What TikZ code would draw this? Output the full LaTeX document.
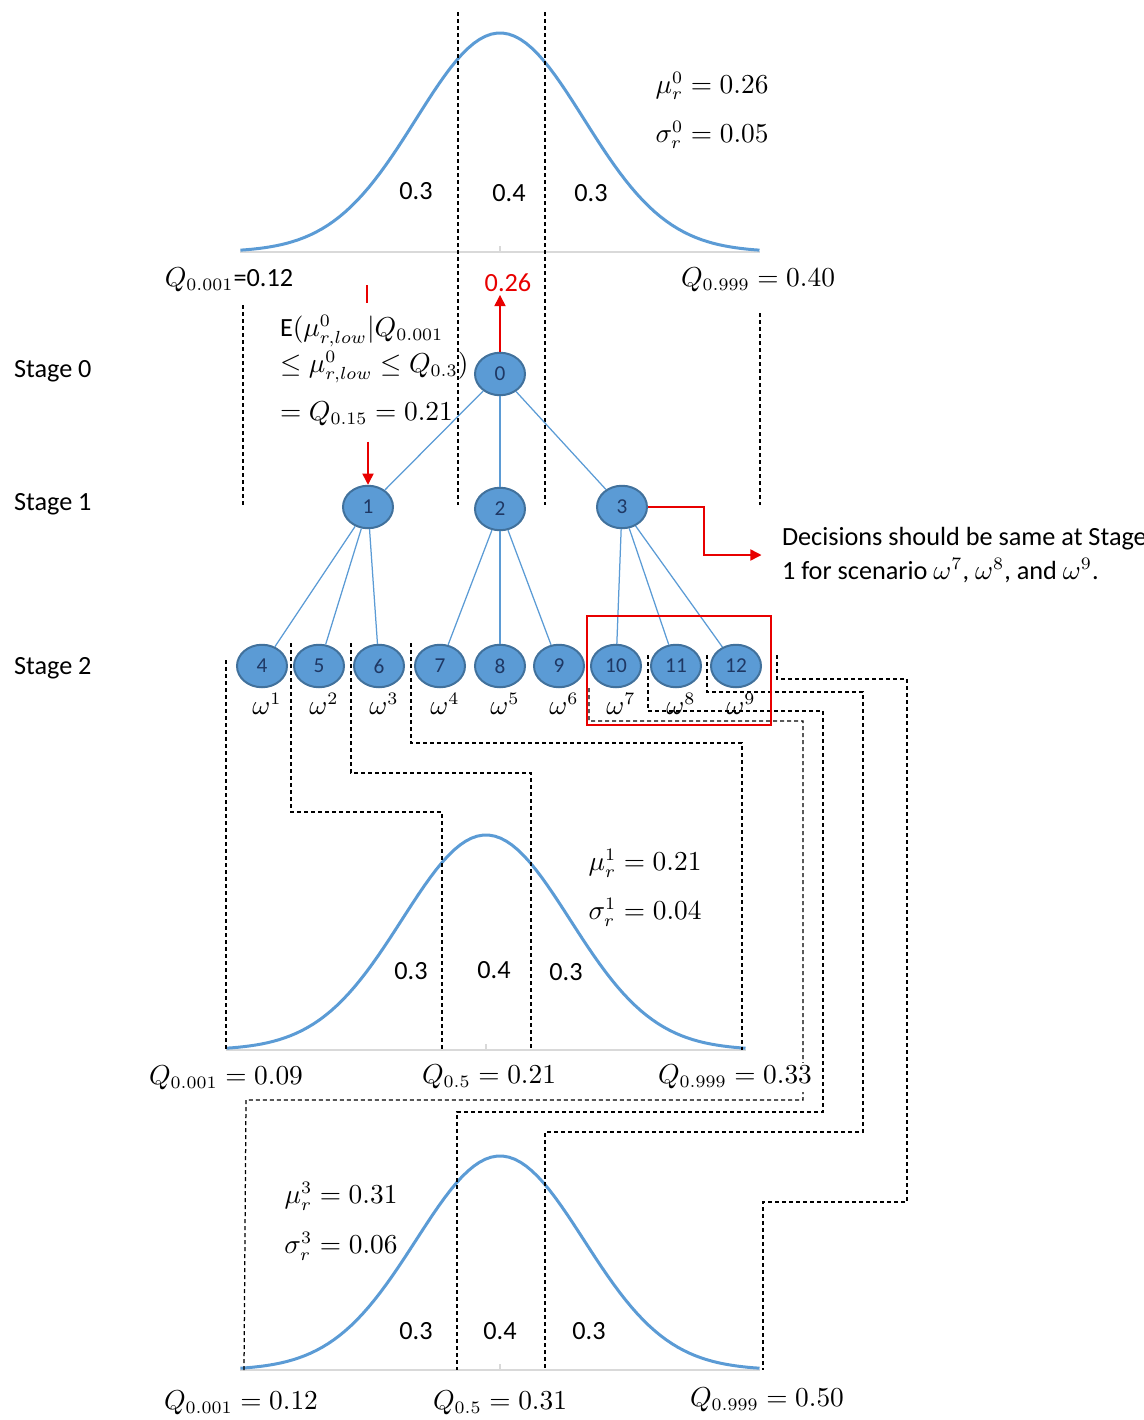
\documentclass[tikz,border=0pt]{standalone}
\usepackage{fontspec}
\setmainfont{Carlito}
\usetikzlibrary{positioning,arrows.meta,shapes.geometric,calc}
\definecolor{nodeblue}{RGB}{91,155,213}
\definecolor{nodeedge}{RGB}{65,113,156}
\definecolor{numblue}{RGB}{31,56,100}
\definecolor{mred}{RGB}{232,0,0}
\tikzset{
  stnode/.style={ellipse,draw=nodeedge,fill=nodeblue,line width=0.8pt,minimum width=20pt,
    minimum height=17pt,inner sep=0pt,text=numblue,font=\fontsize{8.5}{10}\selectfont},
  tedge/.style={nodeblue,line width=0.5pt},          % tree edge
  curve/.style={nodeblue,line width=1.2pt},          % density curve
  dline/.style={dash pattern=on 1.6pt off 1.2pt,line width=0.5pt},
  axisln/.style={black!15,line width=0.7pt},
  redln/.style={mred,line width=0.6pt},
  redarr/.style={redln,-{Triangle[length=4.5pt,width=4.5pt]}},
  lbl/.style={font=\fontsize{10.5}{12.6}\selectfont,inner sep=1pt},
}

\begin{document}
\begin{tikzpicture}[x=0.4pt,y=-0.4pt]
  \useasboundingbox (0,0) rectangle (1144,1420);

  % three densities: centre / baseline / peak height
  \foreach \cx/\by/\pk in {500/252/219, 486/1050/215, 500/1370/214}{
    \draw[axisln] (\cx-260,\by) -- (\cx+260,\by);
    \draw[axisln] (\cx,\by-6) -- (\cx,\by);
    \draw[curve] plot[domain=-3.09:3.09,samples=90] ({\cx+84*\x},{\by-\pk*exp(-0.5*(\x)^2)});
  }

  % quantile lines of the first density
  \draw[dline] (458,12) -- (458,505);
  \draw[dline] (545,12) -- (545,505);
  \draw[dline] (243,305) -- (243,505);
  \draw[dline] (760,313) -- (760,505);

  % scenario splits carried down to the stage 2 densities
  \draw[dline] (226,660) -- (226,1050);
  \draw[dline] (291,643) |- (442,812) -- (442,1050);
  \draw[dline] (351,643) |- (531,773) -- (531,1050);
  \draw[dline] (411,643) |- (742,743) -- (742,1050);
  \draw[dline] (589,688) |- (803,721) |- (246,1100) -- (244,1370);
  \draw[dline] (648,655) |- (823,711) |- (457,1112) -- (457,1370);
  \draw[dline] (707,655) |- (863,692) |- (545,1132) -- (545,1370);
  \draw[dline] (777,655) |- (907,679) |- (763,1202) -- (763,1370);

  % stage labels
  \node[lbl,anchor=west] (st0) at (11,371) {Stage 0};
  \node[lbl,anchor=west] (st1) at (11,504) {Stage 1};
  \node[lbl,anchor=west] (st2) at (11,668) {Stage 2};

  % scenario tree
  \node[stnode] (n0) at (500,374) {0};
  \node[stnode] (n1) at (368,507) {1};
  \node[stnode] (n2) at (500,509) {2};
  \node[stnode] (n3) at (622,507) {3};
  \foreach \i/\x/\w in {4/262/1, 5/319/2, 6/379/3, 7/440/4, 8/500/5, 9/559/6, 10/616/7, 11/676/8, 12/736/9}{
    \node[stnode] (n\i) at (\x,666) {\i};
    \node[lbl] (w\i) at (\x+5,704) {$\omega^{\w}$};
  }
  \foreach \p/\c in {0/1,0/2,0/3,1/4,1/5,1/6,2/7,2/8,2/9,3/10,3/11,3/12}
    \draw[tedge] (n\p) -- (n\c);

  % first density labels
  \node[lbl] (pa0) at (416,191) {0.3};
  \node[lbl] (pb0) at (509,193) {0.4};
  \node[lbl] (pc0) at (591,193) {0.3};
  \node[lbl] (mu0) at (712,86) {$\mu_r^0 = 0.26$};
  \node[lbl] (sg0) at (712,135) {$\sigma_r^0 = 0.05$};
  \node[lbl] (qa0) at (229,280) {$Q_{0.001}$=0.12};
  \node[lbl,text=mred] (qm0) at (508,283) {0.26};
  \node[lbl] (qc0) at (758,280) {$Q_{0.999} = 0.40$};

  % conditional mean for node 1
  \node[lbl,anchor=north west,align=left,font=\fontsize{10.5}{14.4}\selectfont] (expt) at (277,312)
    {$\mathrm{E}\bigl(\mu^0_{r,low}|Q_{0.001}$\\$\le \mu^0_{r,low} \le Q_{0.3}\bigr)$\\[5pt]$= Q_{0.15} = 0.21$};
  \coordinate (tk) at (367,285);
  \draw[redln] (tk) -- ++(0,18);
  \draw[redarr,shorten <=5pt] (expt.south -| n1) -- (n1);
  \draw[redarr] (n0.north) -- (n0.north |- qm0.south);

  % non-anticipativity note
  \node[lbl,anchor=west,align=left,font=\fontsize{10.5}{13.6}\selectfont] (dec) at (779,555)
    {Decisions should be same at Stage\\1 for scenario $\omega^7$, $\omega^8$, and $\omega^9$.};
  \draw[redarr,shorten >=7pt] (n3.east) -- (704,507) |- (dec.west);
  \draw[mred,line width=1pt] (587,616) rectangle (771,725);

  % stage 2 density of node 1
  \node[lbl] (pa1) at (411,971) {0.3};
  \node[lbl] (pb1) at (494,970) {0.4};
  \node[lbl] (pc1) at (566,972) {0.3};
  \node[lbl] (mu1) at (645,863) {$\mu_r^1 = 0.21$};
  \node[lbl] (sg1) at (645,912) {$\sigma_r^1 = 0.04$};
  \node[lbl] (qa1) at (226,1078) {$Q_{0.001} = 0.09$};
  \node[lbl] (qm1) at (489,1077) {$Q_{0.5} = 0.21$};
  \node[lbl,fill=white] (qc1) at (735,1077) {$Q_{0.999} = 0.33$};

  % stage 2 density of node 3
  \node[lbl] (mu3) at (341,1196) {$\mu_r^3 = 0.31$};
  \node[lbl] (sg3) at (341,1246) {$\sigma_r^3 = 0.06$};
  \node[lbl] (pa3) at (416,1331) {0.3};
  \node[lbl] (pb3) at (500,1331) {0.4};
  \node[lbl] (pc3) at (589,1331) {0.3};
  \node[lbl] (qa3) at (241,1403) {$Q_{0.001} = 0.12$};
  \node[lbl] (qm3) at (500,1403) {$Q_{0.5} = 0.31$};
  \node[lbl] (qc3) at (767,1400) {$Q_{0.999} = 0.50$};
\end{tikzpicture}
\end{document}
